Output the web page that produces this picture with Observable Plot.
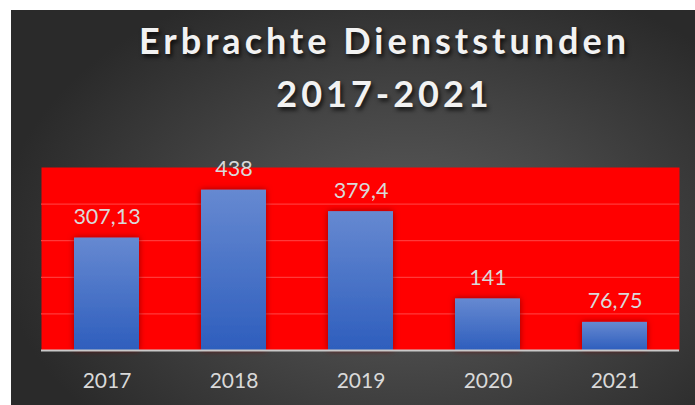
<!DOCTYPE html>
<html>
<head>
<meta charset="utf-8">
<script src="https://cdn.jsdelivr.net/npm/d3@7"></script>
<script src="https://cdn.jsdelivr.net/npm/@observablehq/plot@0.6"></script>
<style>
  html, body { margin: 0; padding: 0; background: #ffffff; }
  #page { position: relative; width: 695px; height: 405px; overflow: hidden; background: #ffffff; }
  #bg { position: absolute; left: 11px; top: 10px; width: 684px; height: 395px;
        background: radial-gradient(ellipse 60% 70% at 58% 58%, #5c5c5c 0%, #474747 45%, #2a2a2a 100%); }
  #title { position: absolute; left: 0; top: 14px; width: 769px; text-align: center;
           font-family: Lato, sans-serif; font-weight: 700; font-size: 36px; line-height: 53px;
           color: #f2f2f2; letter-spacing: 4px; text-shadow: 2px 3px 4px rgba(0,0,0,0.75); }
  #chart { position: absolute; left: 0; top: 150px; }
</style>
</head>
<body>
<div id="page">
  <div id="bg"></div>
  <div id="title">Erbrachte Dienststunden<br>2017-2021</div>
  <div id="chart"></div>
</div>
<script>
const years = ["2017", "2018", "2019", "2020", "2021"];
const hours = [307.13, 438, 379.4, 141, 76.75];
const gridValues = [100, 200, 300, 400];
const yMax = 500;

const data = years.map((y, i) => ({year: y, hours: hours[i]}));
const fmt = v => String(v).replace(".", ",");

const plot = Plot.plot({
  width: 695,
  height: 255,
  marginLeft: 41,
  marginRight: 16,
  marginTop: 17,
  marginBottom: 55,
  style: {background: "transparent", fontFamily: "Lato, sans-serif", overflow: "visible"},
  x: {domain: years, paddingInner: 0.49, paddingOuter: 0.245, label: null},
  y: {domain: [0, yMax], axis: null},
  marks: [
    Plot.frame({fill: "#ff0000", stroke: null}),
    Plot.ruleY(gridValues, {stroke: "#ff3a3a", strokeWidth: 1.3}),
    Plot.barY(data, {x: "year", y: "hours", fill: "url(#barGrad)"}),
    Plot.ruleY([0], {stroke: "#c9c9c9", strokeWidth: 2}),
    Plot.text(data, {x: "year", y: "hours", text: d => fmt(d.hours), lineAnchor: "bottom", dy: -14,
                     fill: "#d9d9d9", fontSize: 21.5}),
    Plot.axisX({tickSize: 0, tickPadding: 23, fontSize: 21, fill: "#d9d9d9", label: null})
  ]
});

const svg = d3.select(plot);
const defs = svg.insert("defs", ":first-child");
const g = defs.append("linearGradient").attr("id", "barGrad").attr("x1", 0).attr("y1", 0).attr("x2", 0).attr("y2", 1);
g.append("stop").attr("offset", "0%").attr("stop-color", "#6689d1");
g.append("stop").attr("offset", "100%").attr("stop-color", "#2e5ebd");
const f = defs.append("filter").attr("id", "barShadow").attr("x", "-30%").attr("y", "-30%").attr("width", "160%").attr("height", "160%");
f.append("feDropShadow").attr("dx", 0).attr("dy", 0).attr("stdDeviation", 3).attr("flood-color", "#7a0000").attr("flood-opacity", 0.8);
svg.selectAll("rect").filter(function() { return this.getAttribute("fill") === "url(#barGrad)" || (this.parentNode && this.parentNode.getAttribute("fill") === "url(#barGrad)"); })
  .attr("filter", "url(#barShadow)");

document.getElementById("chart").appendChild(plot);
</script>
</body>
</html>
